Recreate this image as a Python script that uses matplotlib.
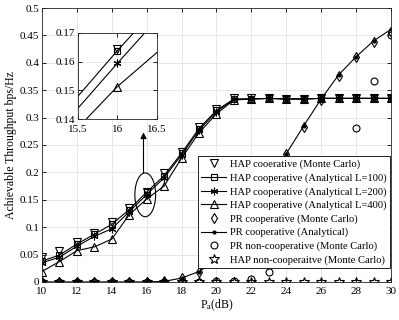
import matplotlib
matplotlib.use("Agg")
import matplotlib.pyplot as plt
from matplotlib.patches import Ellipse

plt.rcParams['font.family'] = ['Liberation Serif', 'DejaVu Serif']
plt.rcParams['mathtext.fontset'] = 'stix'

pa = list(range(10, 31))

hap_mc = [0.045, 0.057, 0.0735, 0.090, 0.110, 0.1345, 0.1645, 0.199, 0.238, 0.282, 0.316,
          0.335, 0.335, 0.336, 0.334, 0.334, 0.335, 0.335, 0.335, 0.335, 0.335]
hap_l100 = [0.038, 0.049, 0.069, 0.087, 0.105, 0.132, 0.1638, 0.194, 0.235, 0.280, 0.313,
            0.334, 0.334, 0.335, 0.334, 0.334, 0.335, 0.335, 0.335, 0.335, 0.335]
hap_l200 = [0.035, 0.045, 0.065, 0.083, 0.097, 0.128, 0.1594, 0.190, 0.232, 0.277, 0.311,
            0.333, 0.334, 0.335, 0.334, 0.334, 0.335, 0.335, 0.335, 0.335, 0.335]
hap_l400 = [0.019, 0.037, 0.057, 0.064, 0.078, 0.1225, 0.1513, 0.175, 0.226, 0.272, 0.307,
            0.332, 0.334, 0.335, 0.334, 0.334, 0.335, 0.335, 0.335, 0.335, 0.335]
pr_mc = [0.0, 0.0, 0.0, 0.0, 0.0, 0.0, 0.0, 0.001, 0.007, 0.019, 0.039,
         0.088, 0.137, 0.186, 0.234, 0.283, 0.332, 0.376, 0.410, 0.438, 0.456]
pr_an = [0.0, 0.0, 0.0, 0.0, 0.0, 0.0, 0.0, 0.001, 0.007, 0.019, 0.039,
         0.088, 0.137, 0.186, 0.234, 0.285, 0.334, 0.378, 0.411, 0.440, 0.461]
pr_nc = [0.0, 0.0, 0.0, 0.0, 0.0, 0.0, 0.0, 0.0, 0.0, 0.0, 0.001,
         0.002, 0.005, 0.019, 0.043, 0.08, 0.13, 0.20, 0.281, 0.367, 0.451]
hap_nc = [0.0] * 21

labels = ["HAP cooerative (Monte Carlo)",
          "HAP cooperative (Analytical L=100)",
          "HAP cooperative (Analytical L=200)",
          "HAP cooperative (Analytical L=400)",
          "PR cooperative (Monte Carlo)",
          "PR cooperative (Analytical)",
          "PR non-cooperative (Monte Carlo)",
          "HAP non-cooperaitve (Monte Carlo)"]

fig = plt.figure(figsize=(3.99, 3.2), dpi=100)
ax = fig.add_axes([0.105, 0.119, 0.875, 0.856])

lw = 0.8
ast = (6, 2, 0)


def draw(a):
    a.plot(pa, hap_mc, ls='none', marker='v', ms=5.5, mfc='none', mec='k', mew=0.8, color='k', label=labels[0])
    a.plot(pa, hap_l100, '-', color='k', lw=lw, marker='s', ms=4.5, mfc='none', mew=0.8, label=labels[1])
    a.plot(pa, hap_l200, '-', color='k', lw=lw, marker=ast, ms=5.5, mew=0.8, label=labels[2])
    a.plot(pa, hap_l400, '-', color='k', lw=lw, marker='^', ms=5.5, mfc='none', mew=0.8, label=labels[3])
    a.plot(pa, pr_mc, ls='none', marker='d', ms=5.0, mfc='none', mec='k', mew=0.8, color='k', label=labels[4])
    a.plot(pa, pr_an, '-', color='k', lw=lw, marker='.', ms=4, label=labels[5])
    a.plot(pa, pr_nc, ls='none', marker='o', ms=5.0, mfc='none', mec='k', mew=0.8, color='k', label=labels[6])
    a.plot(pa, hap_nc, ls='none', marker='*', ms=7.0, mfc='none', mec='k', mew=0.8, color='k', label=labels[7])


draw(ax)
ax.set_xlim(10, 30)
ax.set_ylim(0, 0.5)
ax.set_xticks(range(10, 31, 2))
ax.set_yticks([0, 0.05, 0.1, 0.15, 0.2, 0.25, 0.3, 0.35, 0.4, 0.45, 0.5])
ax.set_yticklabels(['0', '0.05', '0.1', '0.15', '0.2', '0.25', '0.3', '0.35', '0.4', '0.45', '0.5'])
ax.grid(True, color='#e3e3e3', lw=0.6)
ax.set_axisbelow(True)
ax.tick_params(direction='in', top=True, right=True, labelsize=8, length=3, width=0.6, pad=2)
ax.tick_params(axis='x', pad=4)
for sp in ax.spines.values():
    sp.set_linewidth(0.6)
    sp.set_color('#262626')
ax.set_xlabel(r'P$_{\rm a}$(dB)', fontsize=8.5, labelpad=1)
ax.set_ylabel('Achievable Throughput bps/Hz', fontsize=8.5, labelpad=2)

leg = ax.legend(loc='lower right', bbox_to_anchor=(0.997, 0.051), fontsize=7.6,
                frameon=True, fancybox=False, edgecolor='k', framealpha=1,
                borderaxespad=0, borderpad=0.3, labelspacing=0.38,
                handlelength=2.4, handletextpad=0.35)
leg.get_frame().set_linewidth(0.6)
leg.set_zorder(10)

ell = Ellipse((15.92, 0.159), width=1.19, height=0.080, fill=False, lw=0.8, color='k')
ax.add_patch(ell)
ax.annotate('', xy=(15.82, 0.273), xytext=(15.82, 0.199),
            arrowprops=dict(arrowstyle='-|>', lw=0.8, color='k', mutation_scale=9,
                            shrinkA=0, shrinkB=0))

ins = fig.add_axes([0.195, 0.628, 0.198, 0.269])
draw(ins)
ins.set_xlim(15.5, 16.5)
ins.set_ylim(0.14, 0.17)
ins.set_xticks([15.5, 16, 16.5])
ins.set_xticklabels(['15.5', '16', '16.5'])
ins.set_yticks([0.14, 0.15, 0.16, 0.17])
ins.grid(True, color='#e3e3e3', lw=0.6)
ins.set_axisbelow(True)
ins.tick_params(direction='in', top=True, right=True, labelsize=8, length=3, width=0.6, pad=2)
ins.tick_params(axis='x', pad=4)
for sp in ins.spines.values():
    sp.set_linewidth(0.6)
    sp.set_color('#262626')

fig.savefig('out.png', dpi=100)
